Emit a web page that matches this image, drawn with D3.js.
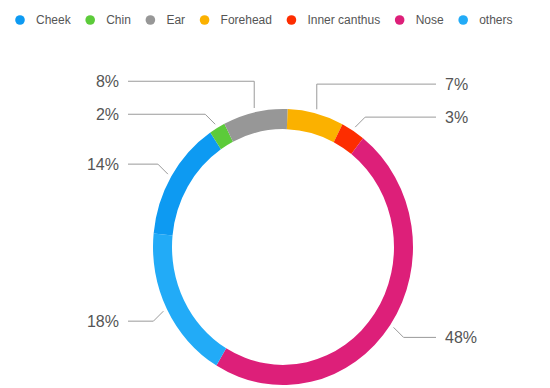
<!DOCTYPE html>
<html>
<head>
<meta charset="utf-8">
<script src="https://cdn.jsdelivr.net/npm/d3@7"></script>
<style>
  html, body { margin: 0; padding: 0; background: #fff; }
  svg { display: block; font-family: "Helvetica Neue", Helvetica, Arial, "Liberation Sans", sans-serif; }
</style>
</head>
<body>
<svg id="chart" width="550" height="388"></svg>
<script>
// donut: face region share

const categories = ["Cheek", "Chin", "Ear", "Forehead", "Inner canthus", "Nose", "others"];
const shares = [14, 2, 8, 7, 3, 48, 18];
const colors = ["#0d9af2", "#5ccb3a", "#979797", "#fbb100", "#fd2d00", "#dd1f79", "#22abf7"];
// draw order round the ring, clockwise from 12 o'clock
const ringOrder = ["Forehead", "Inner canthus", "Nose", "others", "Cheek", "Chin", "Ear"];

const cfg = {
    cx: 283, cy: 247, rOuter: 130, rInner: 111, sy: 1.062,
    rotate: 2 * Math.PI / 180,
    leadR: 134, elbow: 10, minGap: 33,
    leftEnd: 128, rightEnd: 436, textPad: 9
};

const svg = d3.select("#chart");
const color = d3.scaleOrdinal().domain(categories).range(colors);

// legend
const legend = svg.append("g").attr("class", "legend");
let lx = 20;
categories.forEach(c => {
    const g = legend.append("g").attr("transform", `translate(${lx},20)`);
    g.append("circle").attr("r", 4.8).attr("fill", color(c));
    const t = g.append("text").attr("x", 16).attr("y", 4.3)
        .attr("font-size", 12).attr("fill", "#555").text(c);
    lx += 16 + t.node().getComputedTextLength() + 19.5;
});

// ring
const ringData = ringOrder.map(c => ({ name: c, value: shares[categories.indexOf(c)] }));
const pie = d3.pie().sort(null).value(d => d.value)
    .startAngle(cfg.rotate).endAngle(cfg.rotate + 2 * Math.PI);
const arcs = pie(ringData);
const arc = d3.arc().innerRadius(cfg.rInner).outerRadius(cfg.rOuter);

svg.append("g")
    .attr("transform", `translate(${cfg.cx},${cfg.cy}) scale(1,${cfg.sy})`)
    .selectAll("path").data(arcs).join("path")
    .attr("d", arc).attr("fill", d => color(d.data.name));

// leader lines and labels
const pt = (a, r) => [cfg.cx + r * Math.sin(a), cfg.cy - r * Math.cos(a) * cfg.sy];
const labels = arcs.map(d => {
    const mid = (d.startAngle + d.endAngle) / 2;
    const s = pt(mid, cfg.leadR);
    const sx = Math.sign(Math.sin(mid)), sy = -Math.sign(Math.cos(mid));
    const e = [s[0] + sx * cfg.elbow, s[1] + sy * cfg.elbow];
    return { d, mid, s, e, y: e[1], right: sx > 0, pushed: false };
});

[true, false].forEach(side => {
    const grp = labels.filter(l => l.right === side).sort((a, b) => b.y - a.y);
    for (let i = 1; i < grp.length; i++) {
        if (grp[i].y > grp[i - 1].y - cfg.minGap) {
            grp[i].y = grp[i - 1].y - cfg.minGap;
            grp[i].pushed = true;
        }
    }
});

const lab = svg.append("g").attr("class", "labels");
labels.forEach(l => {
    const elbow = l.pushed ? [l.s[0], l.y] : [l.e[0], l.y];
    const endX = l.right ? cfg.rightEnd : cfg.leftEnd;
    lab.append("polyline")
        .attr("points", [l.s, elbow, [endX, l.y]].map(p => p.join(",")).join(" "))
        .attr("fill", "none").attr("stroke", "#9a9a9a").attr("stroke-width", 1);
    lab.append("text")
        .attr("x", l.right ? endX + cfg.textPad : endX - cfg.textPad)
        .attr("y", l.y + 6)
        .attr("text-anchor", l.right ? "start" : "end")
        .attr("font-size", 16).attr("fill", "#555")
        .text(l.d.data.value + "%");
});
</script>
</body>
</html>
